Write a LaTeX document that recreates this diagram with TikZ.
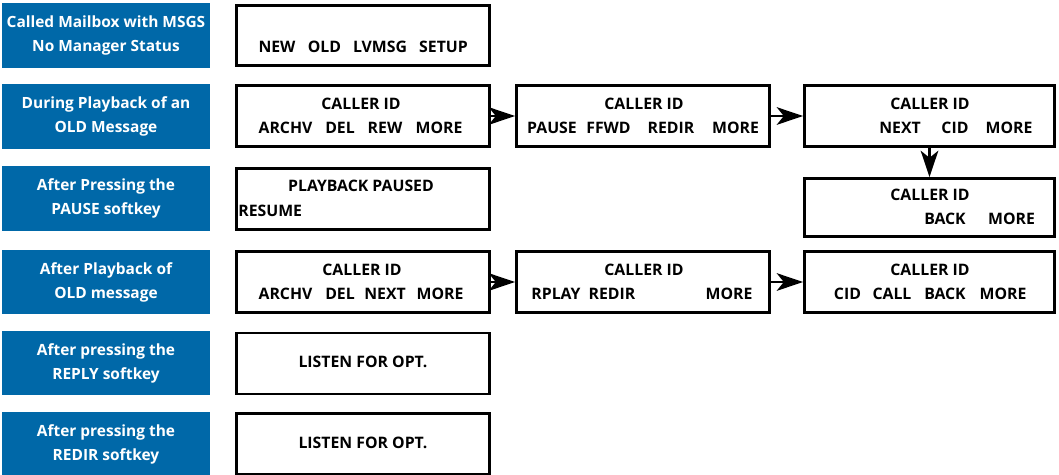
\documentclass[tikz,border=0pt]{standalone}
\usepackage{fontspec}
\setmainfont{Open Sans}
\usetikzlibrary{arrows.meta}
\definecolor{menublue}{RGB}{0, 104, 168}

\tikzset{
  statebox/.style={fill=menublue, text=white, align=center, inner sep=0pt,
    font=\bfseries\fontsize{8.8}{13.6}\selectfont,
    minimum width=4.16cm, minimum height=1.29cm},
  lcd/.style={draw, line width=1.6pt, inner sep=0pt,
    minimum width=5.06cm, minimum height=1.22cm},
  disp/.style={font=\bfseries\fontsize{9}{11}\selectfont, anchor=base, inner sep=0pt},
  flow/.style={line width=1.4pt, -{Stealth[length=15pt, width=10pt, inset=4pt]}}
}

\begin{document}
\begin{tikzpicture}[x=0.02cm, y=-0.02cm]
\useasboundingbox (0,0) rectangle (1059,474);

% states (left column)
\node[statebox] (s1) at (106, 35.5) {Called Mailbox with MSGS\\No Manager Status};
\node[statebox] (s2) at (106,116.5) {During Playback of an\\OLD Message};
\node[statebox] (s3) at (106,198.5) {After Pressing the\\PAUSE softkey};
\node[statebox] (s4) at (106,282)   {After Playback of\\OLD message};
\node[statebox] (s5) at (106,363)   {After pressing the\\REPLY softkey};
\node[statebox] (s6) at (106,444)   {After pressing the\\REDIR softkey};

% displays
\node[lcd, minimum height=1.21cm] (idle) at (363, 35.5) {};
\node[lcd] (play1)  at (363,116) {};
\node[lcd] (play2)  at (643,116) {};
\node[lcd, minimum width=5.0cm] (play3) at (929.5,116) {};
\node[lcd] (paused) at (363,199) {};
\node[lcd, minimum width=5.0cm, minimum height=1.16cm] (play4) at (929.5,207.5) {};
\node[lcd] (after1) at (363,282) {};
\node[lcd] (after2) at (643,282) {};
\node[lcd, minimum width=5.0cm] (after3) at (929.5,282) {};
\node[lcd] (reply)  at (363,363.5) {};
\node[lcd] (redir)  at (363,444) {};

% display texts
\foreach \w/\x [count=\i] in {NEW/277, OLD/324.5, LVMSG/380, SETUP/443.5}
  \node[disp] (idlekey\i) at (\x,52) {\w};

\node[disp] (play1top) at (361,109) {CALLER ID};
\foreach \w/\x [count=\i] in {ARCHV/285.5, DEL/340, REW/385, MORE/439}
  \node[disp] (play1key\i) at (\x,133) {\w};

\node[disp] (play2top) at (644,109) {CALLER ID};
\foreach \w/\x [count=\i] in {PAUSE/552, FFWD/608.5, REDIR/671, MORE/735.5}
  \node[disp] (play2key\i) at (\x,133) {\w};

\node[disp] (play3top) at (930,109) {CALLER ID};
\foreach \w/\x [count=\i] in {NEXT/900, CID/955, MORE/1009}
  \node[disp] (play3key\i) at (\x,133) {\w};

\node[disp] (pausedtop) at (361,191) {PLAYBACK PAUSED};
\node[disp, anchor=base west] (pausedkey) at (238,216) {RESUME};

\node[disp] (play4top) at (930,200) {CALLER ID};
\foreach \w/\x [count=\i] in {BACK/945, MORE/1011.5}
  \node[disp] (play4key\i) at (\x,224) {\w};

\node[disp] (after1top) at (362,275) {CALLER ID};
\foreach \w/\x [count=\i] in {ARCHV/285.5, DEL/340, NEXT/385, MORE/440}
  \node[disp] (after1key\i) at (\x,299) {\w};

\node[disp] (after2top) at (644,275) {CALLER ID};
\foreach \w/\x [count=\i] in {RPLAY/556, REDIR/612, MORE/729}
  \node[disp] (after2key\i) at (\x,299) {\w};

\node[disp] (after3top) at (930,275) {CALLER ID};
\foreach \w/\x [count=\i] in {CID/847.5, CALL/892, BACK/945, MORE/1003}
  \node[disp] (after3key\i) at (\x,299) {\w};

\node[disp] (replytxt) at (363,367) {LISTEN FOR OPT.};
\node[disp] (redirtxt) at (363,448) {LISTEN FOR OPT.};

% MORE transitions
\draw[flow] (play1.east) -- (play2.west);
\draw[flow] (play2.east) -- (play3.west);
\draw[flow] (play3.south) -- (play4.north);
\draw[flow] (after1.east) -- (after2.west);
\draw[flow] (after2.east) -- (after3.west);
\end{tikzpicture}
\end{document}
